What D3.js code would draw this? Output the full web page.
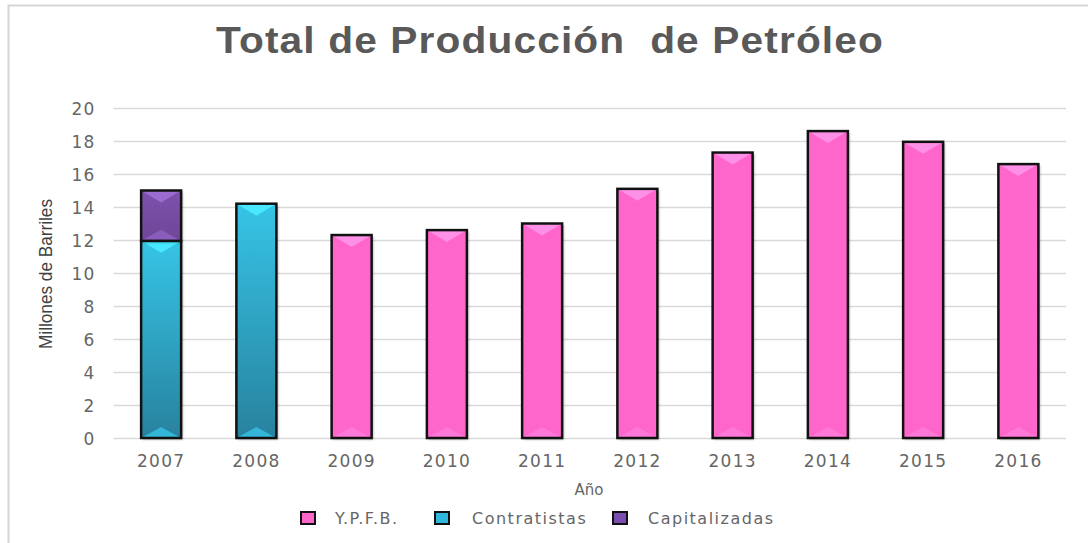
<!DOCTYPE html>
<meta charset="utf-8">
<style>
body { margin: 0; background: #fff; }
text { font-family: "DejaVu Sans", sans-serif; fill: #595959; }
.title { font-family: "Liberation Sans", Arial, sans-serif; font-weight: bold; font-size: 36px; letter-spacing: 1px; }
.tick text { font-size: 17px; letter-spacing: 1.2px; fill: #666; }
.grid line { stroke: #d9d9d9; stroke-width: 1.3; }
.bar { stroke: #111; stroke-width: 2.5; }
.legend text { font-size: 16px; letter-spacing: 1.5px; fill: #666; }
</style>
<body>
<script src="https://cdn.jsdelivr.net/npm/d3@7"></script>
<script>
var years = ["2007", "2008", "2009", "2010", "2011", "2012", "2013", "2014", "2015", "2016"];
var ypfb = [0, 0, 12.3, 12.6, 13.0, 15.1, 17.3, 18.6, 17.95, 16.6];
var contratistas = [11.95, 14.2, 0, 0, 0, 0, 0, 0, 0, 0];
var capitalizadas = [3.05, 0, 0, 0, 0, 0, 0, 0, 0, 0];
var yTicks = [0, 2, 4, 6, 8, 10, 12, 14, 16, 18, 20];
var legendNames = ["Y.P.F.B.", "Contratistas", "Capitalizadas"];

var width = 1088, height = 543;

var svg = d3.select("body").append("svg")
    .attr("width", width)
    .attr("height", height);

var defs = svg.append("defs");
var shadow = defs.append("filter").attr("id", "shadow")
    .attr("x", "-20%").attr("y", "-10%").attr("width", "140%").attr("height", "120%");
shadow.append("feDropShadow")
    .attr("dx", 1.5).attr("dy", 1.5).attr("stdDeviation", 1.2)
    .attr("flood-color", "#000").attr("flood-opacity", 0.35);

// colours per series: body gradient top/bottom, top and bottom bevel
var styles = {
    "Y.P.F.B.": { top: "#ff66cc", bottom: "#ff66cc", hi: "#ff90e8", lo: "#ff78d8", legend: "#ff66cc" },
    "Contratistas": { top: "#36c4e6", bottom: "#28829e", hi: "#48e8ff", lo: "#33b6d8", legend: "#2fb8dc" },
    "Capitalizadas": { top: "#7d52ad", bottom: "#6e4698", hi: "#9d6cd2", lo: "#8a5cbc", legend: "#7a4fb0" }
};

Object.keys(styles).forEach(function(k, i) {
    var g = defs.append("linearGradient").attr("id", "grad" + i)
        .attr("x1", 0).attr("y1", 0).attr("x2", 0).attr("y2", 1);
    g.append("stop").attr("offset", "0%").attr("stop-color", styles[k].top);
    g.append("stop").attr("offset", "100%").attr("stop-color", styles[k].bottom);
    styles[k].grad = "url(#grad" + i + ")";
});

// frame
svg.append("rect")
    .attr("x", 8.5).attr("y", 5.5)
    .attr("width", 1200).attr("height", 700)
    .attr("fill", "none")
    .attr("stroke", "#d6d6d6")
    .attr("stroke-width", 2);

svg.append("text")
    .attr("class", "title")
    .attr("x", 216).attr("y", 53)
    .attr("textLength", 668)
    .attr("lengthAdjust", "spacingAndGlyphs")
    .attr("xml:space", "preserve")
    .text("Total de Producción  de Petróleo");

var x = d3.scaleBand()
    .domain(years)
    .range([113.5, 1066])
    .paddingInner(0.58)
    .paddingOuter(0.29);

var y = d3.scaleLinear()
    .domain([0, 20])
    .range([438, 108]);

// gridlines + y labels
svg.append("g")
    .attr("class", "grid")
    .attr("transform", "translate(113.5,0)")
    .call(d3.axisLeft(y).tickValues(yTicks).tickSize(-952.5).tickPadding(18))
    .call(function(g) { g.select(".domain").remove(); })
    .selectAll("text").attr("dy", "0.36em");

// x labels
svg.append("g")
    .attr("transform", "translate(0,438)")
    .call(d3.axisBottom(x).tickSize(0).tickPadding(17))
    .call(function(g) { g.select(".domain").remove(); });

svg.append("text")
    .attr("x", 589).attr("y", 495)
    .attr("text-anchor", "middle")
    .style("font-size", "15px")
    .style("fill", "#666")
    .text("Año");

svg.append("text")
    .attr("transform", "translate(52,274) rotate(-90)")
    .attr("text-anchor", "middle")
    .attr("textLength", 150)
    .attr("lengthAdjust", "spacingAndGlyphs")
    .style("font-family", "'Liberation Sans', sans-serif")
    .style("font-size", "18px")
    .style("fill", "#404040")
    .text("Millones de Barriles");

// stacked bars
var rows = years.map(function(yr, i) {
    return { year: yr, "Contratistas": contratistas[i], "Capitalizadas": capitalizadas[i], "Y.P.F.B.": ypfb[i] };
});
var stack = d3.stack().keys(["Contratistas", "Capitalizadas", "Y.P.F.B."])(rows);

var segs = [];
stack.forEach(function(layer) {
    layer.forEach(function(d) {
        if (d[1] - d[0] > 0) segs.push({ key: layer.key, year: d.data.year, y0: d[0], y1: d[1] });
    });
});

var bars = svg.append("g").selectAll("g")
    .data(segs)
    .enter().append("g");

bars.append("rect")
    .attr("filter", "url(#shadow)")
    .attr("x", function(d) { return x(d.year); })
    .attr("y", function(d) { return y(d.y1); })
    .attr("width", x.bandwidth())
    .attr("height", function(d) { return y(d.y0) - y(d.y1); })
    .attr("fill", function(d) { return styles[d.key].grad; });

bars.append("polygon")
    .attr("fill", function(d) { return styles[d.key].hi; })
    .attr("points", function(d) {
        var x0 = x(d.year), x1 = x0 + x.bandwidth(), t = y(d.y1);
        return [[x0, t], [x1, t], [(x0 + x1) / 2, t + 12]].join(" ");
    });

bars.append("polygon")
    .attr("fill", function(d) { return styles[d.key].lo; })
    .attr("points", function(d) {
        var x0 = x(d.year), x1 = x0 + x.bandwidth(), b = y(d.y0);
        return [[x0, b], [x1, b], [(x0 + x1) / 2, b - 11]].join(" ");
    });

bars.append("rect")
    .attr("class", "bar")
    .attr("x", function(d) { return x(d.year); })
    .attr("y", function(d) { return y(d.y1); })
    .attr("width", x.bandwidth())
    .attr("height", function(d) { return y(d.y0) - y(d.y1); })
    .attr("fill", "none");

// legend
var legendX = [301, 435, 613];
var legend = svg.append("g").attr("class", "legend")
    .selectAll("g")
    .data(legendNames)
    .enter().append("g")
    .attr("transform", function(d, i) { return "translate(" + legendX[i] + ",512)"; });

legend.append("rect")
    .attr("width", 14).attr("height", 12)
    .attr("fill", function(d) { return styles[d].legend; })
    .attr("stroke", "#111")
    .attr("stroke-width", 2);

legend.append("text")
    .attr("x", function(d, i) { return [34, 37, 35][i]; })
    .attr("y", 12)
    .text(function(d) { return d; });
</script>
</body>
